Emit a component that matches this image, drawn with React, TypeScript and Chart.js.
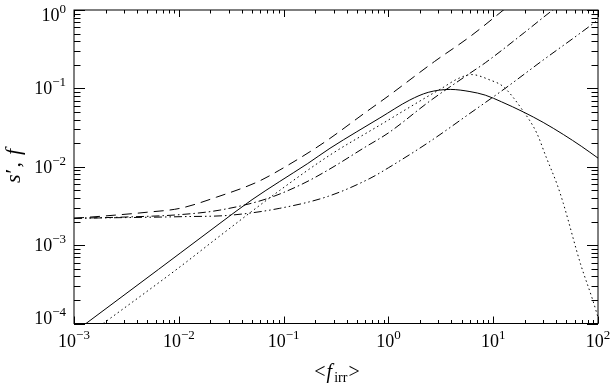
import React, { useEffect, useRef } from "react";
import { Chart, registerables } from "chart.js";

Chart.register(...registerables);

// ---- axis ranges & tick labels ----
const xRange = [1e-3, 1e2];
const yRange = [1e-4, 1];
const xTickValues = [1e-3, 1e-2, 1e-1, 1e0, 1e1, 1e2];
const xTickExps = ["\u22123", "\u22122", "\u22121", "0", "1", "2"];
const yTickValues = [1e-4, 1e-3, 1e-2, 1e-1, 1e0];
const yTickExps = ["\u22124", "\u22123", "\u22122", "\u22121", "0"];

// ---- series ----
const solidX = [0.00125, 0.003, 0.0064, 0.0103, 0.0247, 0.05, 0.092, 0.17, 0.277, 0.5, 0.83, 1.6, 2.4, 3.9, 6.0, 8.4, 12, 19.4, 30, 46.7, 70, 100];
const solidY = [9.6e-5, 2.3e-4, 4.9e-4, 7.9e-4, 1.9e-3, 3.8e-3, 6.5e-3, 0.011, 0.0172, 0.028, 0.042, 0.071, 0.089, 0.097, 0.091, 0.082, 0.0674, 0.05, 0.0368, 0.0258, 0.0181, 0.0129];

const dottedX = [0.0019, 0.0103, 0.023, 0.092, 0.277, 0.83, 2.49, 3.1, 4.67, 6.2, 9.3, 12.5, 19, 26, 32, 41, 46.7, 68, 89, 100];
const dottedY = [1e-4, 5.3e-4, 1.22e-3, 5.0e-3, 0.0141, 0.034, 0.082, 0.097, 0.134, 0.15, 0.128, 0.105, 0.053, 0.027, 0.0133, 0.0058, 0.0034, 5.8e-4, 2e-4, 1.2e-4];

const dashedX = [0.001, 0.002, 0.005, 0.0103, 0.023, 0.057, 0.092, 0.19, 0.277, 0.6, 1.0, 2.75, 6.0, 13];
const dashedY = [0.0022, 0.00236, 0.00263, 0.00295, 0.0041, 0.00645, 0.0091, 0.0164, 0.023, 0.049, 0.08, 0.22, 0.457, 1.04];

const dashDotX = [0.001, 0.003, 0.0103, 0.0247, 0.069, 0.15, 0.27, 0.6, 1.0, 2.49, 6.0, 8.4, 20, 36, 40];
const dashDotY = [0.0022, 0.00228, 0.00245, 0.0028, 0.0039, 0.006, 0.0092, 0.0178, 0.027, 0.069, 0.156, 0.212, 0.52, 0.97, 1.07];

const dashDotDotX = [0.001, 0.011, 0.03, 0.092, 0.267, 0.667, 1.0, 2.49, 6.0, 13, 30, 60, 100];
const dashDotDotY = [0.0022, 0.00231, 0.0024, 0.00295, 0.0042, 0.0071, 0.0097, 0.021, 0.048, 0.1, 0.23, 0.45, 0.745];

const SERIF = "'Liberation Serif', 'Times New Roman', serif";

function pts(xs: number[], ys: number[]) {
  return xs.map((x, i) => ({ x, y: ys[i] }));
}

const axesPlugin = {
  id: "customAxes",
  afterDraw(chart: any) {
    const ctx = chart.ctx as CanvasRenderingContext2D;
    const { left, right, top, bottom } = chart.chartArea;
    const xs = chart.scales.x;
    const ys = chart.scales.y;
    ctx.save();
    ctx.strokeStyle = "#000";
    ctx.fillStyle = "#000";
    ctx.lineWidth = 1;

    // frame
    ctx.strokeRect(left, top, right - left, bottom - top);

    // ticks
    ctx.beginPath();
    for (let d = -3; d <= 2; d++) {
      for (let m = 1; m <= 9; m++) {
        const v = m * Math.pow(10, d);
        if (v < xRange[0] * 0.999 || v > xRange[1] * 1.001) continue;
        const px = Math.round(xs.getPixelForValue(v)) + 0.5;
        const len = m === 1 ? 7 : 3.5;
        ctx.moveTo(px, bottom);
        ctx.lineTo(px, bottom - len);
        ctx.moveTo(px, top);
        ctx.lineTo(px, top + len);
      }
    }
    for (let d = -4; d <= 0; d++) {
      for (let m = 1; m <= 9; m++) {
        const v = m * Math.pow(10, d);
        if (v < yRange[0] * 0.999 || v > yRange[1] * 1.001) continue;
        const py = Math.round(ys.getPixelForValue(v)) + 0.5;
        const len = m === 1 ? 11 : 6.5;
        ctx.moveTo(left, py);
        ctx.lineTo(left + len, py);
        ctx.moveTo(right, py);
        ctx.lineTo(right - len, py);
      }
    }
    ctx.stroke();

    // tick labels
    ctx.textBaseline = "alphabetic";
    ctx.textAlign = "left";
    const baseFont = `18px ${SERIF}`;
    const supFont = `13px ${SERIF}`;
    const drawPow = (x0: number, baseline: number, exp: string) => {
      ctx.font = baseFont;
      const w1 = ctx.measureText("10").width;
      ctx.fillText("10", x0, baseline);
      ctx.font = supFont;
      ctx.fillText(exp, x0 + w1, baseline - 8);
    };
    const powWidth = (exp: string) => {
      ctx.font = baseFont;
      const w1 = ctx.measureText("10").width;
      ctx.font = supFont;
      return w1 + ctx.measureText(exp).width;
    };
    xTickValues.forEach((v, i) => {
      const px = xs.getPixelForValue(v);
      const w = powWidth(xTickExps[i]);
      drawPow(px - w / 2, 347, xTickExps[i]);
    });
    yTickValues.forEach((v, i) => {
      const py = ys.getPixelForValue(v);
      const w = powWidth(yTickExps[i]);
      let baseline = py + 6;
      baseline = Math.max(20.5, Math.min(323.5, baseline));
      drawPow(66 - w, baseline, yTickExps[i]);
    });

    // x title  <f_irr>
    {
      const big = `20px ${SERIF}`;
      const bigIt = `italic 20px ${SERIF}`;
      const sub = `14px ${SERIF}`;
      const parts = [
        { t: "<", f: big, dy: 0, gap: 1 },
        { t: "f", f: bigIt, dy: 0, gap: 2 },
        { t: "irr", f: sub, dy: 4, gap: 1 },
        { t: ">", f: big, dy: 0, gap: 0 },
      ];
      let total = 0;
      parts.forEach((p) => {
        ctx.font = p.f;
        total += ctx.measureText(p.t).width + p.gap;
      });
      let x = 337 - total / 2;
      parts.forEach((p) => {
        ctx.font = p.f;
        ctx.fillText(p.t, x, 378 + p.dy);
        x += ctx.measureText(p.t).width + p.gap;
      });
    }

    // y title  s′, f (rotated)
    {
      ctx.save();
      ctx.translate(20, 166);
      ctx.rotate(-Math.PI / 2);
      const it = `italic 22px ${SERIF}`;
      const rg = `22px ${SERIF}`;
      const parts = [
        { t: "s", f: it, gap: 1 },
        { t: "\u2032", f: rg, gap: 1 },
        { t: ",", f: rg, gap: 7 },
        { t: "f", f: it, gap: 0 },
      ];
      let total = 0;
      parts.forEach((p) => {
        ctx.font = p.f;
        total += ctx.measureText(p.t).width + p.gap;
      });
      let x = -total / 2;
      parts.forEach((p) => {
        ctx.font = p.f;
        ctx.fillText(p.t, x, 0);
        x += ctx.measureText(p.t).width + p.gap;
      });
      ctx.restore();
    }
    ctx.restore();
  },
};

export default function App() {
  const ref = useRef<HTMLCanvasElement | null>(null);
  useEffect(() => {
    if (!ref.current) return;
    const mk = (xs: number[], ys: number[], dash: number[]) => ({
      data: pts(xs, ys),
      borderColor: "#000",
      borderWidth: 1,
      borderDash: dash,
      pointRadius: 0,
      fill: false,
      cubicInterpolationMode: "monotone" as const,
    });
    const chart = new Chart(ref.current, {
      type: "line",
      data: {
        datasets: [
          mk(solidX, solidY, []),
          mk(dottedX, dottedY, [1.5, 3]),
          mk(dashedX, dashedY, [10, 6]),
          mk(dashDotX, dashDotY, [8, 3, 1.5, 3]),
          mk(dashDotDotX, dashDotDotY, [8, 3, 1.5, 3, 1.5, 3]),
        ] as any,
      },
      options: {
        responsive: false,
        animation: false,
        layout: { padding: { left: 74, right: 12, top: 10, bottom: 64.5 } },
        plugins: { legend: { display: false }, tooltip: { enabled: false } },
        scales: {
          x: { type: "logarithmic", min: xRange[0], max: xRange[1], display: false },
          y: { type: "logarithmic", min: yRange[0], max: yRange[1], display: false },
        },
      },
      plugins: [axesPlugin],
    });
    return () => chart.destroy();
  }, []);
  return (
    <div style={{ position: "absolute", left: 0, top: 0, width: 610, height: 388, background: "#fff" }}>
      <canvas ref={ref} width={610} height={388} style={{ display: "block" }} />
    </div>
  );
}
